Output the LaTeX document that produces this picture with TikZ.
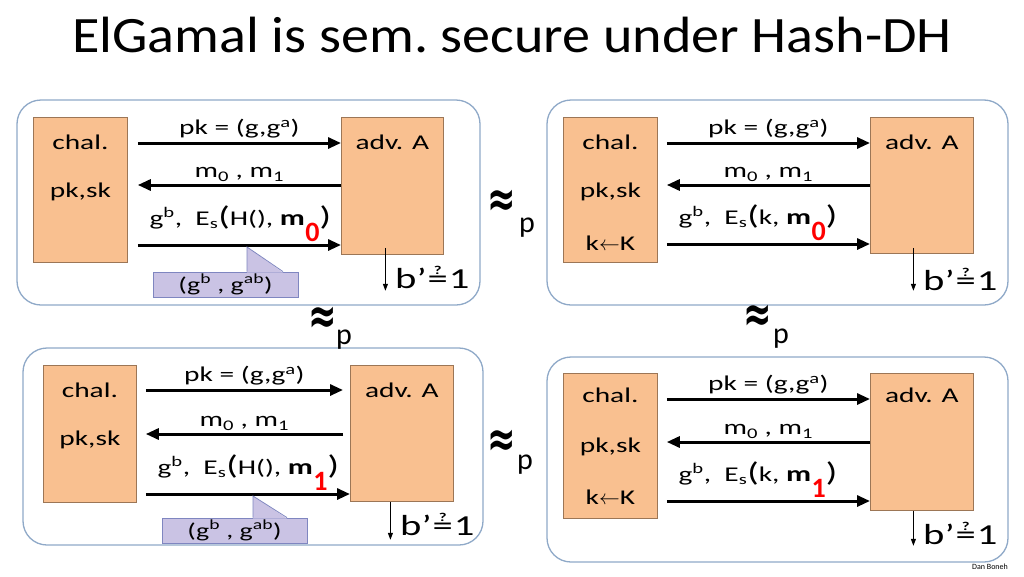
\documentclass[tikz,border=0pt]{standalone}
\usepackage{fontspec}
\setmainfont{Carlito}[FakeStretch=1.4]
\newfontfamily\titlefont{Carlito}[FakeStretch=1.1]
\newfontfamily\plainfont{Carlito}
\newfontfamily\symfont{DejaVu Sans}
\usetikzlibrary{arrows.meta}

\definecolor{boxorange}{HTML}{F9C090}
\definecolor{boxedge}{HTML}{9C7656}
\definecolor{panelblue}{HTML}{8FA9C8}
\definecolor{hintfill}{HTML}{CAC3E4}
\definecolor{hintedge}{HTML}{7F86C0}

% Texte, die sich wiederholen
\newcommand{\bigpar}{\fontsize{27}{29}\selectfont}
\newcommand{\redidx}[1]{\smash{\raisebox{-16pt}{\plainfont\bfseries\fontsize{28}{28}\selectfont\textcolor{red}{#1}}}}
\newcommand{\ctext}[2]{g\textsuperscript{b},\ \ E\textsubscript{s}{\bigpar(}#1, {\bfseries\fontsize{22}{24}\selectfont m\kern0.5pt\redidx{#2}}{\bigpar)}}
\newcommand{\bguess}{b’\kern1pt$\stackrel{\mbox{\bfseries\fontsize{12}{12}\selectfont ?}}{\mbox{=}}$\kern1pt 1}
\newcommand{\apxsym}{\scalebox{1}[1.5]{≈}}

\begin{document}
\begin{tikzpicture}[x=1pt,y=-1pt,
    game/.style={draw=panelblue, line width=1.3pt, rounded corners=24pt},
    party/.style={draw=boxedge, fill=boxorange, line width=0.8pt, inner sep=0pt, anchor=north west},
    txt/.style={font=\fontsize{21}{24}\selectfont},
    msg/.style={line width=3pt, -{Triangle[length=13pt,width=11pt]}},
    guess/.style={line width=1pt, -{Triangle[length=7pt,width=5pt]}},
    hint/.style={draw=hintedge, fill=hintfill, line width=0.8pt, inner sep=0pt},
    ptr/.style={draw=hintedge, line width=0.8pt},
    ctlbl/.style={txt, pos=0, anchor=base west, xshift=7pt, yshift=20pt},
    bres/.style={anchor=base west, font=\fontsize{29}{32}\selectfont},
    apx/.style={font=\symfont\bfseries\fontsize{34}{36}\selectfont},
    psub/.style={font=\plainfont\fontsize{30}{32}\selectfont}]
  \useasboundingbox (0,0) rectangle (1024,576);
  \fill[white] (0,0) rectangle (1024,576);

  % Titel
  \node[font=\titlefont\fontsize{51}{56}\selectfont] (title) at (512,35) {ElGamal is sem.\ secure under Hash-DH};

  % Spiel 1 (oben links)
  \draw[game] (17,100) rectangle (480,305);
  \node[party, minimum width=94pt, minimum height=145pt] (chal1) at (33,117) {};
  \node[party, minimum width=102pt, minimum height=137pt] (adv1) at (341,117) {};
  \node[txt] (chalT1) at ([yshift=-25pt]chal1.north) {chal.};
  \node[txt] (keys1) at ([yshift=-75pt]chal1.north) {pk,sk};
  \node[txt] (advT1) at ([yshift=-25pt]adv1.north) {adv. A};
  \draw[msg] ([xshift=10pt]chal1.east |- 0,143) -- (adv1.west |- 0,143)
        node[midway, above, txt] (pk1) {pk = (g,g\textsuperscript{a})};
  \draw[msg] (adv1.west |- 0,185) -- ([xshift=10pt]chal1.east |- 0,185)
        node[midway, above=-1pt, txt] (mm1) {m\textsubscript{0} , m\textsubscript{1}};
  \draw[msg] ([xshift=10pt]chal1.east |- 0,245) coordinate (s1) -- (adv1.west |- 0,245)
        node[ctlbl] (ct1) {\ctext{H()}{0}};
  \node[hint, minimum width=145pt, minimum height=25pt, txt, font=\fontsize{20}{22}\selectfont] (hint1) at (225.5,284.5) {(g\textsuperscript{b} , g\textsuperscript{ab})};
  \fill[hintfill] ([xshift=21.5pt,yshift=-1pt]hint1.north) -- ([xshift=21.5pt,yshift=-2pt]hint1.north |- s1)
        -- ([xshift=57.5pt,yshift=-1pt]hint1.north) -- cycle;
  \draw[ptr] ([xshift=21.5pt]hint1.north) -- ([xshift=21.5pt,yshift=-2pt]hint1.north |- s1) -- ([xshift=57.5pt]hint1.north);
  \draw[guess] ([xshift=-7pt,yshift=7pt]adv1.south) -- ++(0,43) coordinate (g1)
        node[bres, xshift=6pt, yshift=2pt] (bq1) {\bguess};

  % Spiel 2 (oben rechts)
  \draw[game] (547,100) rectangle (1008,305);
  \node[party, minimum width=94pt, minimum height=145pt] (chal2) at (563,117) {};
  \node[party, minimum width=103pt, minimum height=136pt] (adv2) at (870,117) {};
  \node[txt] (chalT2) at ([yshift=-25pt]chal2.north) {chal.};
  \node[txt] (keys2) at ([yshift=-75pt]chal2.north) {pk,sk};
  \node[txt] (kk2) at ([yshift=-126pt]chal2.north) {k$\leftarrow$K};
  \node[txt] (advT2) at ([yshift=-25pt]adv2.north) {adv. A};
  \draw[msg] ([xshift=9pt]chal2.east |- 0,143) -- (adv2.west |- 0,143)
        node[midway, above, txt] (pk2) {pk = (g,g\textsuperscript{a})};
  \draw[msg] (adv2.west |- 0,185) -- ([xshift=9pt]chal2.east |- 0,185)
        node[midway, above=-1pt, txt] (mm2) {m\textsubscript{0} , m\textsubscript{1}};
  \draw[msg] ([xshift=9pt]chal2.east |- 0,244) coordinate (s2) -- (adv2.west |- 0,244)
        node[ctlbl] (ct2) {\ctext{k}{0}};
  \draw[guess] ([xshift=-8.5pt,yshift=6pt]adv2.south) -- ++(0,43) coordinate (g2)
        node[bres, xshift=6pt, yshift=0pt] (bq2) {\bguess};

  % Spiel 3 (unten links)
  \draw[game] (23,348) rectangle (483,545);
  \node[party, minimum width=93pt, minimum height=137pt] (chal3) at (43,365) {};
  \node[party, minimum width=103pt, minimum height=136pt] (adv3) at (350,365) {};
  \node[txt] (chalT3) at ([yshift=-25pt]chal3.north) {chal.};
  \node[txt] (keys3) at ([yshift=-75pt]chal3.north) {pk,sk};
  \node[txt] (advT3) at ([yshift=-25pt]adv3.north) {adv. A};
  \draw[msg] ([xshift=9pt]chal3.east |- 0,390) -- ([xshift=-7pt]adv3.west |- 0,390)
        node[midway, above, txt] (pk3) {pk = (g,g\textsuperscript{a})};
  \draw[msg] ([xshift=-7pt]adv3.west |- 0,434) -- ([xshift=9pt]chal3.east |- 0,434)
        node[midway, above=-1pt, txt] (mm3) {m\textsubscript{0} , m\textsubscript{1}};
  \draw[msg] ([xshift=9pt]chal3.east |- 0,494) coordinate (s3) -- (adv3.west |- 0,494)
        node[ctlbl] (ct3) {\ctext{H()}{1}};
  \node[hint, minimum width=145pt, minimum height=25pt, txt, font=\fontsize{20}{22}\selectfont] (hint3) at (234.5,530.5) {(g\textsuperscript{b} , g\textsuperscript{ab})};
  \fill[hintfill] ([xshift=18.5pt,yshift=-1pt]hint3.north) -- ([xshift=18.5pt,yshift=-2pt]hint3.north |- s3)
        -- ([xshift=52.5pt,yshift=-1pt]hint3.north) -- cycle;
  \draw[ptr] ([xshift=18.5pt]hint3.north) -- ([xshift=18.5pt,yshift=-2pt]hint3.north |- s3) -- ([xshift=52.5pt]hint3.north);
  \draw[guess] ([xshift=-11.5pt]adv3.south) -- ++(0,38) coordinate (g3)
        node[bres, xshift=6pt, yshift=4pt] (bq3) {\bguess};

  % Spiel 4 (unten rechts)
  \draw[game] (547,357) rectangle (1008,562);
  \node[party, minimum width=94pt, minimum height=145pt] (chal4) at (563,373) {};
  \node[party, minimum width=103pt, minimum height=137pt] (adv4) at (870,373) {};
  \node[txt] (chalT4) at ([yshift=-22pt]chal4.north) {chal.};
  \node[txt] (keys4) at ([yshift=-74pt]chal4.north) {pk,sk};
  \node[txt] (kk4) at ([yshift=-124pt]chal4.north) {k$\leftarrow$K};
  \node[txt] (advT4) at ([yshift=-22pt]adv4.north) {adv. A};
  \draw[msg] ([xshift=9pt]chal4.east |- 0,399) -- (adv4.west |- 0,399)
        node[midway, above, txt] (pk4) {pk = (g,g\textsuperscript{a})};
  \draw[msg] (adv4.west |- 0,442) -- ([xshift=9pt]chal4.east |- 0,442)
        node[midway, above=-1pt, txt] (mm4) {m\textsubscript{0} , m\textsubscript{1}};
  \draw[msg] ([xshift=9pt]chal4.east |- 0,501) coordinate (s4) -- (adv4.west |- 0,501)
        node[ctlbl] (ct4) {\ctext{k}{1}};
  \draw[guess] ([xshift=-8.5pt]adv4.south) -- ++(0,35) coordinate (g4)
        node[bres, xshift=6pt, yshift=1pt] (bq4) {\bguess};

  % Ununterscheidbarkeit
  \node[apx] (ax12) at (502,203) {\apxsym};
  \node[psub] (px12) at (527,228) {p};
  \node[apx] (ax13) at (323,320) {\apxsym};
  \node[psub] (px13) at (344,340) {p};
  \node[apx] (ax24) at (758,318) {\apxsym};
  \node[psub] (px24) at (781,339) {p};
  \node[apx] (ax34) at (502,443) {\apxsym};
  \node[psub] (px34) at (525,465) {p};

  \node[font=\plainfont\fontsize{8}{9}\selectfont] (author) at (990,567) {Dan Boneh};
\end{tikzpicture}
\end{document}
